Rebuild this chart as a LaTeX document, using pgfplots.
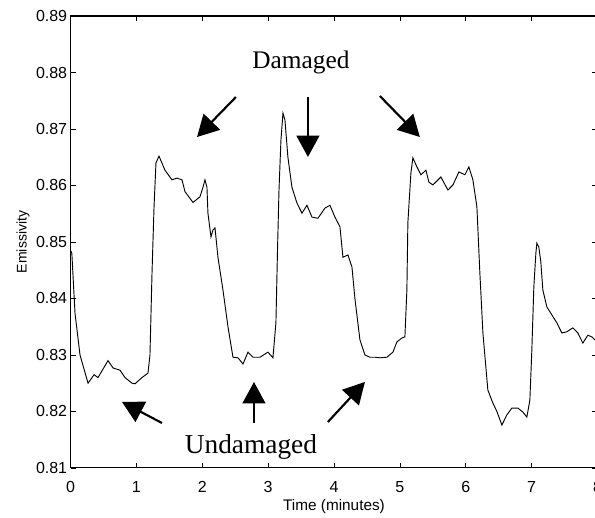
\documentclass[border=0pt]{standalone}
\usepackage{pgfplots}
\pgfplotsset{compat=1.18}
\usepackage{fontspec}
\setmainfont{Liberation Sans}
\newfontfamily\seriffont{Liberation Serif}
\usetikzlibrary{arrows.meta}
\begin{document}
\begin{tikzpicture}[x=1pt,y=1pt]
\useasboundingbox (-52.9,-37.5) rectangle (393.4,351);
\begin{axis}[
  at={(0,0)}, anchor=origin,
  scale only axis,
  width=395.3pt, height=339pt,
  xmin=0, xmax=8, ymin=0.81, ymax=0.89,
  xtick={0,1,...,8},
  ytick={0.81,0.82,...,0.89},
  yticklabel style={/pgf/number format/fixed,/pgf/number format/fixed zerofill,/pgf/number format/precision=2},
  /pgf/number format/assume math mode=true,
  tick align=inside,
  major tick length=4pt,
  tick style={black, line width=0.6pt},
  axis line style={line width=0.8pt},
  ticklabel style={font=\fontsize{12}{14}\selectfont},
  xticklabel style={yshift=-6.5pt},
  yticklabel style={xshift=1pt},
  xlabel={Time (minutes)},
  ylabel={Emissivity},
  xlabel style={font=\fontsize{11.5}{13}\selectfont, yshift=1.5pt},
  ylabel style={font=\fontsize{10.5}{12}\selectfont, yshift=-2pt},
  clip=true,
]
\addplot[black, line width=0.7pt] coordinates {
(0.000,0.8485) (0.020,0.8480) (0.068,0.8374) (0.144,0.8300) (0.266,0.8250)
(0.357,0.8265) (0.417,0.8260) (0.569,0.8290) (0.645,0.8277) (0.751,0.8273)
(0.827,0.8260) (0.933,0.8250) (0.979,0.8249) (1.085,0.8260) (1.176,0.8268)
(1.206,0.8300) (1.237,0.8445) (1.267,0.8560) (1.297,0.8640) (1.343,0.8652)
(1.434,0.8627) (1.540,0.8610) (1.616,0.8613) (1.692,0.8610) (1.738,0.8589)
(1.859,0.8570) (1.965,0.8580) (2.011,0.8597) (2.041,0.8610) (2.071,0.8597)
(2.086,0.8551) (2.132,0.8509) (2.162,0.8521) (2.193,0.8525) (2.238,0.8473)
(2.314,0.8415) (2.390,0.8350) (2.466,0.8296) (2.542,0.8295) (2.618,0.8284)
(2.694,0.8305) (2.769,0.8296) (2.876,0.8296) (2.997,0.8305) (3.073,0.8295)
(3.118,0.8357) (3.141,0.8480) (3.164,0.8590) (3.194,0.8680) (3.225,0.8728)
(3.255,0.8716) (3.300,0.8650) (3.361,0.8597) (3.437,0.8569) (3.513,0.8551)
(3.589,0.8565) (3.665,0.8544) (3.756,0.8542) (3.862,0.8560) (3.938,0.8565)
(4.014,0.8544) (4.090,0.8527) (4.135,0.8473) (4.211,0.8477) (4.272,0.8456)
(4.317,0.8400) (4.393,0.8327) (4.469,0.8300) (4.545,0.8296) (4.621,0.8296)
(4.697,0.8295) (4.803,0.8296) (4.894,0.8305) (4.954,0.8323) (5.030,0.8330)
(5.076,0.8332) (5.106,0.8415) (5.121,0.8534) (5.167,0.8622) (5.197,0.8649)
(5.258,0.8633) (5.319,0.8619) (5.395,0.8627) (5.440,0.8606) (5.501,0.8601)
(5.622,0.8615) (5.729,0.8592) (5.805,0.8601) (5.896,0.8624) (5.987,0.8619)
(6.047,0.8633) (6.108,0.8610) (6.169,0.8562) (6.214,0.8445) (6.260,0.8339)
(6.335,0.8238) (6.411,0.8215) (6.472,0.8200) (6.548,0.8176) (6.624,0.8194)
(6.700,0.8206) (6.791,0.8206) (6.866,0.8199) (6.927,0.8190) (6.973,0.8220)
(7.003,0.8309) (7.033,0.8420) (7.064,0.8480) (7.079,0.8498) (7.109,0.8491)
(7.139,0.8465) (7.170,0.8415) (7.231,0.8385) (7.306,0.8371) (7.382,0.8357)
(7.458,0.8339) (7.534,0.8341) (7.625,0.8348) (7.701,0.8339) (7.777,0.8321)
(7.853,0.8335) (7.913,0.8332) (7.959,0.8327) (8.000,0.8325)
};
\draw[line width=1.6pt, -{Triangle[length=16pt,width=17pt]}] (axis cs:2.511,0.87566) -- (axis cs:1.920,0.86858);
\draw[line width=1.6pt, -{Triangle[length=16pt,width=17pt]}] (axis cs:3.604,0.87566) -- (axis cs:3.604,0.86504);
\draw[line width=1.6pt, -{Triangle[length=16pt,width=17pt]}] (axis cs:4.696,0.87584) -- (axis cs:5.303,0.86858);
\draw[line width=1.6pt, -{Triangle[length=16pt,width=17pt]}] (axis cs:1.388,0.81796) -- (axis cs:0.781,0.82168);
\draw[line width=1.6pt, -{Triangle[length=16pt,width=17pt]}] (axis cs:2.785,0.81796) -- (axis cs:2.785,0.82522);
\draw[line width=1.6pt, -{Triangle[length=16pt,width=17pt]}] (axis cs:3.907,0.81814) -- (axis cs:4.469,0.82522);
\node[font=\seriffont\fontsize{19}{22}\selectfont] at (axis cs:3.498,0.88186) {Damaged};
\node[font=\seriffont\fontsize{20.5}{24}\selectfont] at (axis cs:2.739,0.81372) {Undamaged};
\end{axis}
\end{tikzpicture}
\end{document}
